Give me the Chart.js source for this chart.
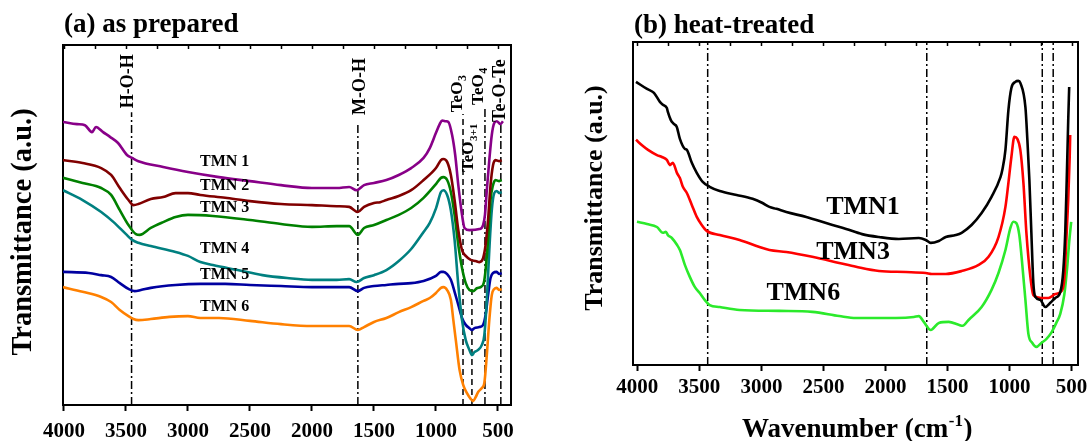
<!DOCTYPE html>
<html><head><meta charset="utf-8">
<script src="https://cdn.jsdelivr.net/npm/chart.js@4.4.0/dist/chart.umd.min.js"></script>
<style>
html,body{margin:0;padding:0;background:#fff;}
#wrap{position:relative;width:1091px;height:441px;overflow:hidden;background:#fff;}
#ca{position:absolute;left:0;top:0;}
#cb{position:absolute;left:545px;top:0;}
</style></head><body>
<div id="wrap"><canvas id="ca" width="545" height="441"></canvas><canvas id="cb" width="546" height="441"></canvas></div>
<script>
const FONT = "'Liberation Serif','Times New Roman',Times,serif";

// ---------------- data ----------------
const xTickValues = [4000, 3500, 3000, 2500, 2000, 1500, 1000, 500];
const xMinorTickValues = [4000, 3750, 3500, 3250, 3000, 2750, 2500, 2250, 2000, 1750, 1500, 1250, 1000, 750, 500];

// Panel (a) as prepared : [wavenumber, transmittance a.u.]
const namesA = ['TMN 1', 'TMN 2', 'TMN 3', 'TMN 4', 'TMN 5', 'TMN 6'];
const tmn1A = [[4008,78.8],[3895,78.2],[3831,77.9],[3774,76.0],[3742,77.4],[3685,76.0],[3629,74.7],[3564,73.0],[3492,69.7],[3451,68.9],[3400,68.0],[3200,66.4],[3000,65.0],[2750,63.6],[2500,62.5],[2250,61.4],[2000,60.6],[1800,60.6],[1700,60.9],[1640,60.0],[1580,61.4],[1500,62.0],[1400,62.8],[1300,64.2],[1200,66.1],[1100,68.9],[1050,71.6],[1000,75.8],[970,78.2],[950,79.2],[920,79.0],[900,78.8],[870,75.2],[845,69.7],[820,61.4],[790,53.2],[770,49.6],[730,49.0],[650,49.3],[620,50.4],[605,53.2],[590,60.0],[570,68.3],[550,75.2],[530,78.5],[510,79.0],[480,78.2],[460,79.0]];
const tmn2A = [[4008,68.3],[3850,67.5],[3700,66.1],[3620,64.2],[3550,60.6],[3480,57.3],[3440,55.9],[3400,56.2],[3300,57.6],[3200,58.1],[3100,59.2],[3000,59.2],[2900,58.7],[2700,57.9],[2500,57.0],[2250,56.2],[2000,55.9],[1800,55.6],[1700,55.4],[1630,54.0],[1580,55.4],[1500,56.5],[1450,56.7],[1400,57.3],[1300,58.4],[1200,60.0],[1100,62.8],[1000,66.1],[960,68.3],[940,68.6],[910,67.8],[880,64.2],[850,57.3],[820,49.0],[790,43.5],[760,41.9],[720,40.8],[680,40.5],[650,40.2],[620,41.3],[600,44.9],[580,51.8],[560,61.4],[540,66.9],[520,68.3],[490,68.0],[470,68.3]];
const tmn3A = [[4008,63.4],[3850,62.0],[3700,60.6],[3620,58.7],[3550,54.5],[3480,50.4],[3420,47.9],[3390,47.7],[3300,49.6],[3200,51.2],[3100,52.6],[3000,53.2],[2800,52.9],[2500,51.8],[2250,50.7],[2000,49.9],[1800,50.1],[1700,50.1],[1630,47.7],[1580,49.6],[1500,50.4],[1400,51.8],[1300,53.2],[1200,55.1],[1100,57.9],[1000,61.7],[960,63.4],[940,63.6],[910,62.8],[880,59.5],[850,53.2],[820,44.9],[790,38.6],[760,34.4],[730,32.5],[700,32.2],[670,33.0],[640,33.3],[615,34.4],[600,38.0],[580,46.3],[560,57.3],[540,61.4],[520,62.8],[490,62.5],[470,62.8]];
const tmn4A = [[4008,60.0],[3850,57.3],[3700,54.0],[3600,51.2],[3500,47.9],[3450,46.3],[3400,45.5],[3300,44.6],[3100,43.0],[3000,41.9],[2900,40.2],[2800,39.4],[2600,38.0],[2400,36.6],[2200,35.8],[2000,35.3],[1800,35.3],[1700,35.5],[1640,34.7],[1580,35.8],[1500,36.6],[1400,38.0],[1300,40.5],[1200,43.8],[1100,48.5],[1050,51.0],[1000,55.0],[960,59.5],[940,60.0],[910,58.7],[880,54.5],[850,46.3],[820,33.9],[790,24.2],[760,18.7],[730,16.0],[710,14.6],[690,15.4],[660,16.0],[630,17.4],[610,20.1],[590,29.8],[570,43.5],[550,54.5],[530,59.2],[510,59.8],[490,59.2],[470,59.5]];
const tmn5A = [[4008,37.5],[3800,37.2],[3700,36.6],[3620,36.1],[3550,34.4],[3480,32.8],[3430,32.2],[3380,32.5],[3300,33.1],[3100,33.9],[2900,34.2],[2700,34.2],[2500,33.9],[2250,33.6],[2000,33.3],[1800,33.3],[1700,33.3],[1630,32.2],[1580,33.1],[1500,33.6],[1400,33.9],[1300,34.2],[1200,34.4],[1100,35.0],[1000,36.4],[960,37.5],[940,37.5],[910,36.9],[880,35.3],[850,32.0],[820,28.4],[790,24.8],[760,22.9],[730,22.0],[710,21.5],[690,22.0],[650,22.3],[620,22.9],[600,25.6],[580,31.1],[560,35.8],[540,37.2],[510,37.5],[490,36.9],[470,37.2]];
const tmn6A = [[4008,33.3],[3850,32.0],[3700,30.6],[3620,29.2],[3550,27.0],[3480,25.3],[3440,24.5],[3400,24.2],[3300,24.5],[3150,25.1],[3000,25.3],[2900,24.8],[2750,24.8],[2500,24.0],[2250,23.1],[2000,22.6],[1800,22.6],[1700,22.6],[1630,21.5],[1580,22.3],[1500,23.7],[1400,24.8],[1300,26.4],[1200,27.8],[1100,29.5],[1050,30.3],[1000,31.7],[960,33.1],[940,33.3],[910,32.5],[880,29.8],[860,24.2],[840,18.7],[810,10.5],[780,6.3],[750,4.1],[720,2.5],[700,1.9],[680,3.0],[660,4.4],[630,5.5],[610,6.9],[590,14.6],[570,24.2],[550,31.1],[530,32.8],[510,33.1],[490,32.5],[470,32.8]];
const bandsA = [3455, 1630, 782, 710, 605, 477];
const bandNamesA = ['H-O-H', 'M-O-H', 'TeO', 'TeO', 'TeO', 'Te-O-Te'];
const bandSubsA = ['', '', '3', '3+1', '4', ''];

// Panel (b) heat-treated
const namesB = ['TMN1', 'TMN3', 'TMN6'];
const tmn1B = [[4011,88.0],[3922,85.8],[3866,84.6],[3818,81.8],[3794,80.9],[3762,79.9],[3754,78.7],[3730,76.2],[3706,75.0],[3682,74.1],[3657,70.4],[3617,67.3],[3601,67.0],[3561,63.0],[3521,59.9],[3473,57.1],[3417,55.6],[3336,54.3],[3200,53.1],[3071,51.9],[2991,50.6],[2935,49.4],[2879,48.8],[2799,47.8],[2638,46.3],[2453,44.1],[2317,42.6],[2189,41.0],[2052,40.1],[1892,39.5],[1731,39.8],[1675,39.2],[1635,38.3],[1570,38.9],[1514,40.1],[1434,40.7],[1386,41.4],[1306,43.8],[1225,47.5],[1145,52.5],[1073,58.6],[1057,61.0],[1033,67.0],[1009,79.3],[985,86.1],[953,88.0],[929,88.3],[913,87.7],[872,80.2],[856,70.0],[840,57.7],[824,41.4],[808,25.9],[792,21.6],[752,20.7],[712,18.5],[671,19.8],[631,21.3],[591,23.1],[567,29.6],[551,41.4],[539,57.7],[527,76.0],[519,86.4]];
const tmn3B = [[4011,70.1],[3955,68.2],[3914,67.0],[3842,65.4],[3802,64.8],[3762,63.9],[3738,62.3],[3714,63.0],[3681,59.9],[3657,58.3],[3633,55.6],[3601,53.7],[3561,50.0],[3521,46.3],[3481,43.8],[3441,42.0],[3336,40.7],[3176,39.2],[3015,37.0],[2935,36.1],[2799,35.5],[2590,34.0],[2373,32.1],[2237,30.9],[2052,29.6],[1835,29.3],[1675,29.0],[1627,28.7],[1514,28.7],[1386,29.6],[1249,31.5],[1169,34.0],[1089,40.1],[1033,49.4],[1009,56.8],[985,64.8],[961,71.0],[937,70.4],[913,67.0],[888,56.8],[864,41.4],[832,27.8],[808,22.2],[744,21.3],[687,21.3],[631,22.5],[591,23.1],[559,26.9],[543,38.6],[527,51.5],[515,64.8],[511,71.6]];
const tmn6B = [[4003,44.8],[3922,44.1],[3842,43.2],[3794,41.4],[3770,41.7],[3754,40.7],[3722,39.8],[3681,37.7],[3657,36.1],[3617,31.5],[3577,27.8],[3537,24.7],[3497,22.8],[3457,20.7],[3417,19.1],[3336,18.5],[3176,17.6],[2855,17.3],[2590,17.0],[2373,15.7],[2237,15.1],[1916,15.1],[1771,15.4],[1731,15.7],[1691,13.9],[1635,11.4],[1570,13.6],[1490,13.9],[1410,13.0],[1378,12.7],[1330,14.5],[1225,18.5],[1145,23.8],[1089,29.0],[1033,36.1],[993,42.9],[969,44.8],[945,44.4],[921,40.7],[897,31.5],[872,20.7],[848,10.2],[816,7.4],[784,6.2],[744,7.4],[704,8.6],[664,10.5],[623,13.6],[591,16.4],[559,22.2],[535,30.9],[519,38.6],[503,44.8]];
const bandsB = [3433, 1667, 736, 648];

// ---------------- drawing helpers ----------------
const pts = arr => arr.map(([x, y]) => ({x, y}));

const textPlugin = {
  id: 'panelText',
  afterDraw(chart, args, opts) {
    const ctx = chart.ctx, xs = chart.scales.x, ys = chart.scales.y, ca = chart.chartArea;
    ctx.save();
    // inner minor ticks along the top frame
    ctx.strokeStyle = '#000'; ctx.lineWidth = 1.5;
    for (const v of xMinorTickValues) {
      const px = Math.round(xs.getPixelForValue(v)) + 0.5;
      ctx.beginPath(); ctx.moveTo(px, ca.top); ctx.lineTo(px, ca.top + 4); ctx.stroke();
    }
    ctx.fillStyle = '#000';
    for (const it of opts.items) {
      const px = it.wn !== undefined ? xs.getPixelForValue(it.wn) + (it.dx || 0) : it.px;
      const py = it.v !== undefined ? ys.getPixelForValue(it.v) : it.py;
      ctx.save();
      ctx.translate(px, py);
      if (it.rot) ctx.rotate(it.rot);
      ctx.font = `bold ${it.size}px ${FONT}`;
      ctx.textAlign = it.align || 'left';
      ctx.textBaseline = it.baseline || 'alphabetic';
      ctx.fillText(it.text, 0, 0);
      let w = ctx.measureText(it.text).width;
      if (it.sub) {
        ctx.font = `bold ${it.subSize}px ${FONT}`;
        ctx.textAlign = 'left';
        ctx.fillText(it.sub, w + 0.5, it.subDy);
        w += ctx.measureText(it.sub).width + 1;
      }
      if (it.tail) {
        ctx.font = `bold ${it.size}px ${FONT}`;
        ctx.textAlign = 'left';
        ctx.fillText(it.tail, w, 0);
      }
      ctx.restore();
    }
    ctx.restore();
  }
};

function makeChart(canvasId, p) {
  const datasets = [];
  p.series.forEach((s, i) => datasets.push({
    data: pts(s), borderColor: p.colors[i], borderWidth: 2.6, pointRadius: 0,
    cubicInterpolationMode: 'monotone', fill: false
  }));
  p.bands.forEach((b, i) => datasets.push({
    data: [{x: b, y: p.bandBottom}, {x: b, y: p.bandTops[i]}],
    borderColor: '#000', borderWidth: 1.5, pointRadius: 0, borderDash: p.bandDash[i], fill: false
  }));
  return new Chart(document.getElementById(canvasId), {
    type: 'line',
    data: {datasets},
    plugins: [textPlugin],
    options: {
      responsive: false, animation: false, devicePixelRatio: 1,
      layout: {padding: 0},
      plugins: {legend: {display: false}, tooltip: {enabled: false}, title: {display: false},
        panelText: {items: p.texts}},
      scales: {
        x: {
          type: 'linear', position: 'bottom', reverse: true, min: p.xmin, max: p.xmax,
          afterBuildTicks: s => { s.ticks = xTickValues.map(v => ({value: v})); },
          afterFit: s => { s.height = p.bottomH; },
          ticks: {color: '#000', padding: p.tickPad, maxRotation: 0, autoSkip: false,
            font: {family: FONT, size: 21, weight: 'bold'}, callback: v => String(v)},
          grid: {drawOnChartArea: false, drawTicks: true, tickLength: 6, tickWidth: 2, color: '#000'},
          border: {display: true, color: '#000', width: 2}
        },
        x2: {
          type: 'linear', position: 'top', display: true,
          afterFit: s => { s.height = p.topH; },
          ticks: {display: false},
          grid: {drawOnChartArea: false, drawTicks: false},
          border: {display: true, color: '#000', width: 2}
        },
        y: {
          type: 'linear', position: 'left', min: p.ymin, max: p.ymax,
          afterFit: s => { s.width = p.leftW; },
          ticks: {display: false},
          grid: {drawOnChartArea: false, drawTicks: false},
          border: {display: true, color: '#000', width: 2}
        },
        y2: {
          type: 'linear', position: 'right', display: true,
          afterFit: s => { s.width = p.rightW; },
          ticks: {display: false},
          grid: {drawOnChartArea: false, drawTicks: false},
          border: {display: true, color: '#000', width: 2}
        }
      }
    }
  });
}

const ROT = -Math.PI / 2;
const DASH = [6, 4];
const DASHDOT = [8, 3, 2, 3];

// panel (a)
const textsA = [
  {text: '(a) as prepared', px: 64, py: 32, size: 27},
  {text: 'Transmittance (a.u.)', px: 24, py: 232, size: 28.5, rot: ROT, align: 'center', baseline: 'middle'},
  {text: namesA[0], wn: 2903, v: 67.8, size: 16, baseline: 'middle'},
  {text: namesA[1], wn: 2903, v: 61.2, size: 16, baseline: 'middle'},
  {text: namesA[2], wn: 2903, v: 55.1, size: 16, baseline: 'middle'},
  {text: namesA[3], wn: 2903, v: 43.8, size: 16, baseline: 'middle'},
  {text: namesA[4], wn: 2903, v: 36.6, size: 16, baseline: 'middle'},
  {text: namesA[5], wn: 2903, v: 27.8, size: 16, baseline: 'middle'},
  {text: bandNamesA[0], wn: bandsA[0], dx: -3, v: 82.6, size: 18, rot: ROT, baseline: 'middle'},
  {text: bandNamesA[1], wn: bandsA[1], dx: 2, v: 80.7, size: 18, rot: ROT, baseline: 'middle'},
  {text: bandNamesA[2], sub: bandSubsA[2], subSize: 12, subDy: 5, wn: bandsA[2], dx: -5, v: 81.5, size: 17, rot: ROT, baseline: 'middle'},
  {text: bandNamesA[3], sub: bandSubsA[3], subSize: 11, subDy: 5, wn: bandsA[3], dx: -3, v: 65.0, size: 17, rot: ROT, baseline: 'middle'},
  {text: bandNamesA[4], sub: bandSubsA[4], subSize: 12, subDy: 5, wn: bandsA[4], dx: -6, v: 83.5, size: 17, rot: ROT, baseline: 'middle'},
  {text: bandNamesA[5], wn: bandsA[5], dx: 0, v: 78.8, size: 18, rot: ROT, baseline: 'middle'}
];
makeChart('ca', {
  series: [tmn1A, tmn2A, tmn3A, tmn4A, tmn5A, tmn6A],
  colors: ['#880088', '#800000', '#008000', '#008080', '#0000a0', '#ff8000'],
  bands: bandsA, bandBottom: 0.83, bandTops: [81.5, 78.5, 81.0, 64.0, 82.6, 78.5],
  bandDash: [DASHDOT, DASHDOT, DASH, DASH, DASHDOT, DASHDOT],
  xmin: 395, xmax: 4008, ymin: 0.83, ymax: 100,
  leftW: 63, rightW: 34, topH: 45, bottomH: 36, tickPad: 8,
  texts: textsA
});

// panel (b)
const textsB = [
  {text: '(b) heat-treated', px: 89, py: 33, size: 27},
  {text: 'Transmittance (a.u.)', px: 50, py: 198, size: 26, rot: ROT, align: 'center', baseline: 'middle'},
  {text: 'Wavenumber (cm', sub: '-1', subSize: 17, subDy: -11, tail: ')', px: 197, py: 437, size: 27},
  {text: namesB[0], wn: 2478, v: 49.4, size: 26, baseline: 'middle'},
  {text: namesB[1], wn: 2558, v: 35.5, size: 26, baseline: 'middle'},
  {text: namesB[2], wn: 2959, v: 22.8, size: 26, baseline: 'middle'}
];
makeChart('cb', {
  series: [tmn1B, tmn3B, tmn6B],
  colors: ['#000000', '#ff0000', '#2bea2b'],
  bands: bandsB, bandBottom: 0.6, bandTops: [100.3, 100.3, 100.3, 100.3],
  bandDash: [DASHDOT, DASHDOT, DASHDOT, DASHDOT],
  xmin: 447, xmax: 4035, ymin: 0.6, ymax: 100.3,
  leftW: 88, rightW: 11, topH: 42, bottomH: 76, tickPad: 3.5,
  texts: textsB
});
</script>
</body></html>
